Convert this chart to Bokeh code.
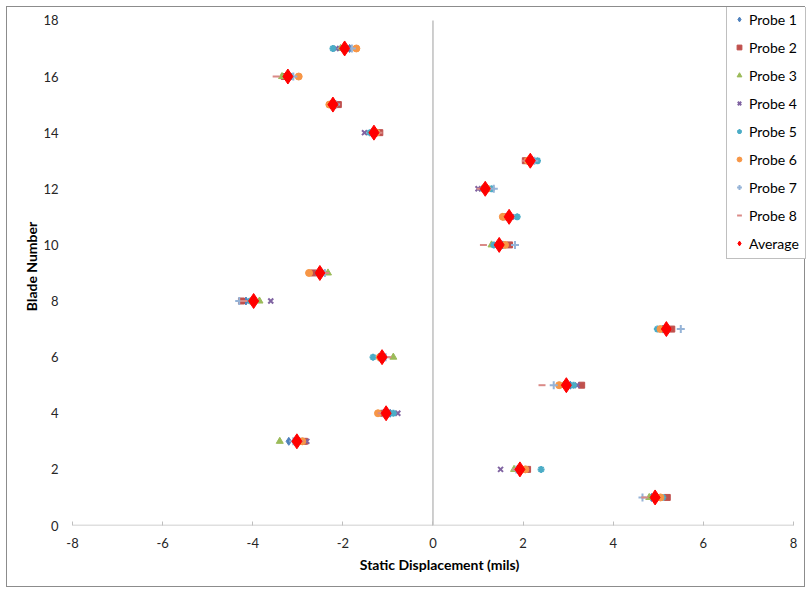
from bokeh.plotting import figure
from bokeh.models import Range1d, Legend, LegendItem, FixedTicker
from bokeh.embed import file_html
from bokeh.resources import INLINE

blades = list(range(1, 18))
probe1 = [4.85, 1.9, -3.2, -0.95, 3.05, -1.2, 5.1, -4.15, -2.5, 1.55, 1.65, 1.2, 2.2, -1.35, -2.25, -3.25, -1.85]
probe2 = [5.2, 2.1, -2.85, -1.1, 3.3, -1.15, 5.3, -4.25, -2.65, 1.7, 1.6, 1.15, 2.05, -1.18, -2.1, -3.3, -1.95]
probe3 = [4.8, 1.8, -3.4, -1.05, 2.9, -0.88, 5.15, -3.85, -2.33, 1.3, 1.7, 1.1, 2.15, -1.3, -2.2, -3.35, -2.05]
probe4 = [4.9, 1.5, -2.8, -0.78, 3.2, -1.1, 5.2, -3.6, -2.45, 1.4, 1.75, 1.0, 2.1, -1.52, -2.3, -3.2, -2.15]
probe5 = [5.1, 2.4, -2.95, -0.88, 3.12, -1.33, 4.98, -4.05, -2.55, 1.35, 1.87, 1.3, 2.32, -1.4, -2.25, -3.15, -2.22]
probe6 = [5.05, 2.05, -2.9, -1.22, 2.8, -1.18, 5.05, -4.0, -2.75, 1.6, 1.55, 1.2, 2.1, -1.25, -2.3, -2.98, -1.7]
probe7 = [4.65, 1.85, -3.1, -1.1, 2.68, -1.05, 5.5, -4.3, -2.4, 1.82, 1.72, 1.35, 2.25, -1.3, -2.15, -3.1, -1.8]
probe8 = [4.7, 1.85, -2.95, -1.15, 2.42, -1.0, 5.22, -4.2, -2.38, 1.12, 1.68, 1.05, 2.05, -1.2, -2.2, -3.48, -2.0]
average = [4.93, 1.93, -3.02, -1.04, 2.96, -1.13, 5.18, -3.98, -2.51, 1.47, 1.69, 1.16, 2.16, -1.31, -2.22, -3.22, -1.96]

series_names = ["Probe 1", "Probe 2", "Probe 3", "Probe 4", "Probe 5", "Probe 6", "Probe 7", "Probe 8", "Average"]
series_vals = [probe1, probe2, probe3, probe4, probe5, probe6, probe7, probe8, average]
markers = ["diamond", "square", "triangle", "x", "asterisk", "circle", "cross", "dash", "diamond"]
colors = ["#4F81BD", "#C0504D", "#9BBB59", "#8064A2", "#4BACC6", "#F79646", "#95B3D7", "#DA8A87", "#FF0000"]
sizes = [8, 6, 7, 7, 7, 7, 8, 7, 15]

x_ticks = [-8, -6, -4, -2, 0, 2, 4, 6, 8]
y_ticks = [0, 2, 4, 6, 8, 10, 12, 14, 16, 18]
x_min, x_max = -8, 8
y_min, y_max = 0, 18

FONT = "Lato"

# frame extends a little past x=8 and y=18 so the legend (which overhangs in the original) is not clipped
p = figure(width=799, height=581, output_backend="svg", toolbar_location=None,
           x_range=Range1d(x_min, x_max + 0.29), y_range=Range1d(y_min, y_max + 0.46),
           min_border_left=65, min_border_right=0, min_border_top=0, min_border_bottom=63,
           margin=(6, 0, 0, 6), styles={"border": "1px solid #8C8C8C"})
p.outline_line_color = None
p.xgrid.visible = False
p.ygrid.visible = False
p.background_fill_color = "white"
p.border_fill_color = "white"

# x axis
p.xaxis.ticker = FixedTicker(ticks=x_ticks)
p.xaxis.major_label_overrides = {t: str(t) for t in x_ticks}
p.xaxis.axis_line_color = None
p.xaxis.major_tick_line_color = "#BFBFBF"
p.xaxis.major_tick_in = 4
p.xaxis.major_tick_out = 0
p.xaxis.minor_tick_line_color = None
p.xaxis.major_label_text_font = FONT
p.xaxis.major_label_text_font_size = "13px"
p.xaxis.major_label_text_color = "#262626"
p.xaxis.major_label_standoff = 12
p.xaxis.axis_label = "Static Displacement (mils)"
p.xaxis.axis_label_text_font = FONT
p.xaxis.axis_label_text_font_size = "14px"
p.xaxis.axis_label_text_font_style = "bold"
p.xaxis.axis_label_text_color = "#000000"
p.xaxis.axis_label_standoff = 5

# horizontal axis line from -8 to 8 and vertical axis line at x = 0 (0 to 18)
p.segment(x0=[x_min], y0=[0], x1=[x_max], y1=[0], line_color="#BFBFBF", line_width=1.5)
p.segment(x0=[0], y0=[y_min], x1=[0], y1=[y_max], line_color="#BFBFBF", line_width=1.5)

# y axis
p.yaxis.ticker = FixedTicker(ticks=y_ticks)
p.yaxis.axis_line_color = None
p.yaxis.major_tick_line_color = None
p.yaxis.minor_tick_line_color = None
p.yaxis.major_label_text_font = FONT
p.yaxis.major_label_text_font_size = "13px"
p.yaxis.major_label_text_color = "#262626"
p.yaxis.major_label_standoff = 8
p.yaxis.axis_label = "Blade Number"
p.yaxis.axis_label_text_font = FONT
p.yaxis.axis_label_text_font_size = "14px"
p.yaxis.axis_label_text_font_style = "bold"
p.yaxis.axis_label_text_color = "#000000"
p.yaxis.axis_label_standoff = 0

items = []
for name, vals, mk, col, sz in zip(series_names, series_vals, markers, colors, sizes):
    r = p.scatter(x=vals, y=blades, marker=mk, size=sz, fill_color=col, line_color=col,
                  line_width=2 if mk in ("x", "asterisk", "cross", "dash") else 1)
    items.append(LegendItem(label=name, renderers=[r]))

legend = Legend(items=items, location=(654, 266), label_text_font=FONT,
                label_text_font_size="14px", label_text_color="#000000",
                border_line_color="#7F7F7F", border_line_width=1,
                background_fill_color="white", background_fill_alpha=1,
                glyph_width=12, glyph_height=18, label_height=18, spacing=10,
                padding=6, margin=0, label_standoff=4)
p.add_layout(legend, "center")

open("out.html", "w").write(file_html(p, INLINE))
